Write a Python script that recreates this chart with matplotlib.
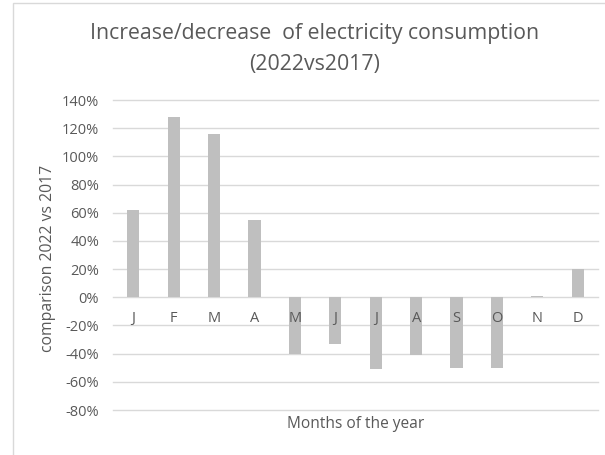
import numpy as np
import matplotlib.pyplot as plt
from matplotlib.patches import Rectangle

plt.rcParams['font.family'] = ['Open Sans', 'DejaVu Sans']

months = ["J", "F", "M", "A", "M", "J", "J", "A", "S", "O", "N", "D"]
change_pct = [62, 128, 116, 55, -40, -33, -51, -41, -50, -50, 1, 20]
yticks = [-80, -60, -40, -20, 0, 20, 40, 60, 80, 100, 120, 140]

txt = "#595959"
W, H = 605, 455
fig = plt.figure(figsize=(W / 100, H / 100), dpi=100)

# chart-area frame (only left and top edges fall inside the image)
fig.patches.append(Rectangle((13 / W, -0.1), 2, (1 - 3 / H) + 0.1,
                             transform=fig.transFigure, fill=False,
                             edgecolor="#d9d9d9", linewidth=1))

ax = fig.add_axes([113 / W, 1 - 410 / H, (598 - 113) / W, (410 - 100) / H])
x = np.arange(len(months))

for t in yticks:
    ax.axhline(t, color="#d9d9d9", linewidth=1, zorder=0, clip_on=False)

ax.bar(x, change_pct, width=0.3, color="#bfbfbf", zorder=1)

ax.set_xlim(-0.5, len(months) - 0.5)
ax.set_ylim(-80, 140)
ax.set_yticks(yticks)
ax.set_yticklabels([f"{t}%" for t in yticks])
ax.set_xticks(x)
ax.set_xticklabels(months)

for s in ax.spines.values():
    s.set_visible(False)
ax.spines['bottom'].set_position(('data', 0))
ax.set_axisbelow('line')
ax.tick_params(axis='x', length=0, pad=10, labelsize=10.5, labelcolor=txt)
ax.tick_params(axis='y', length=0, pad=10, labelsize=10.5, labelcolor=txt)

fig.text(315 / W, 1 - 33 / H, "Increase/decrease  of electricity consumption",
         ha="center", va="center", fontsize=15.3, color=txt)
fig.text(315 / W, 1 - 65 / H, "(2022vs2017)", ha="center", va="center",
         fontsize=15.3, color=txt)
fig.text(48 / W, 1 - 258 / H, "comparison 2022 vs 2017", rotation=90,
         ha="center", va="center", fontsize=11.3, color=txt)
fig.text(356 / W, 1 - 424 / H, "Months of the year", ha="center",
         va="center", fontsize=11.2, color=txt)

fig.savefig("out.png", dpi=100)
